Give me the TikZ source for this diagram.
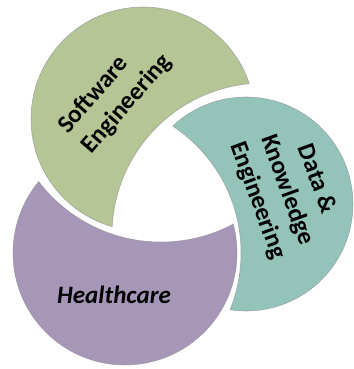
\documentclass[tikz,border=0pt]{standalone}
\usepackage{fontspec}
\setmainfont{Carlito}
\definecolor{sgreen}{RGB}{181,197,149}
\definecolor{steal}{RGB}{148,195,186}
\definecolor{spurple}{RGB}{166,151,184}
\tikzset{
  lbl/.style={font=\bfseries\fontsize{25}{31}\selectfont, text=black, inner sep=0pt},
  hlbl/.style={font=\bfseries\itshape\fontsize{25}{31}\selectfont, text=black, inner sep=0pt},
  rim/.style={draw=black!45, line width=0.6pt, draw opacity=0.6}
}
\begin{document}
\begin{tikzpicture}[x=1pt,y=1pt]
\useasboundingbox (0,0) rectangle (353,-369);
% circle centres
\coordinate (G) at (143,-119);
\coordinate (T) at (246,-204);
\coordinate (P) at (125,-253);
% cutting circles (next circle, widened)
\coordinate (Gcut) at (264,-235);
\coordinate (Tcut) at (89,-253);
\coordinate (Pcut) at (161,-88);
% green
\begin{scope}
  \clip (-1000,1000) -- (1000,1000) -- (1000,-1000) -- (-1000,-1000) -- cycle (Gcut) circle[radius=152];
  \fill[sgreen] (G) circle[radius=112];
  \draw[rim] (G) circle[radius=112];
\end{scope}
\begin{scope}
  \clip (G) circle[radius=112];
  \draw[rim] (Gcut) circle[radius=152];
\end{scope}
% teal
\begin{scope}
  \clip (-1000,1000) -- (1000,1000) -- (1000,-1000) -- (-1000,-1000) -- cycle (Tcut) circle[radius=152];
  \fill[steal] (T) circle[radius=107];
  \draw[rim] (T) circle[radius=107];
\end{scope}
\begin{scope}
  \clip (T) circle[radius=107];
  \draw[rim] (Tcut) circle[radius=152];
\end{scope}
% purple
\begin{scope}
  \clip (-1000,1000) -- (1000,1000) -- (1000,-1000) -- (-1000,-1000) -- cycle (Pcut) circle[radius=154];
  \fill[spurple] (P) circle[radius=112];
  \draw[rim] (P) circle[radius=112];
\end{scope}
\begin{scope}
  \clip (P) circle[radius=112];
  \draw[rim] (Pcut) circle[radius=154];
\end{scope}
% labels
\node[lbl, rotate=49, align=left] (sw) at (115,-94) {Software\\Engineering};
\node[lbl, rotate=-70, align=center] (dk) at (287,-190) {Data \&\\Knowledge\\Engineering};
\node[hlbl] (hc) at (114,-295) {Healthcare};
\end{tikzpicture}
\end{document}
